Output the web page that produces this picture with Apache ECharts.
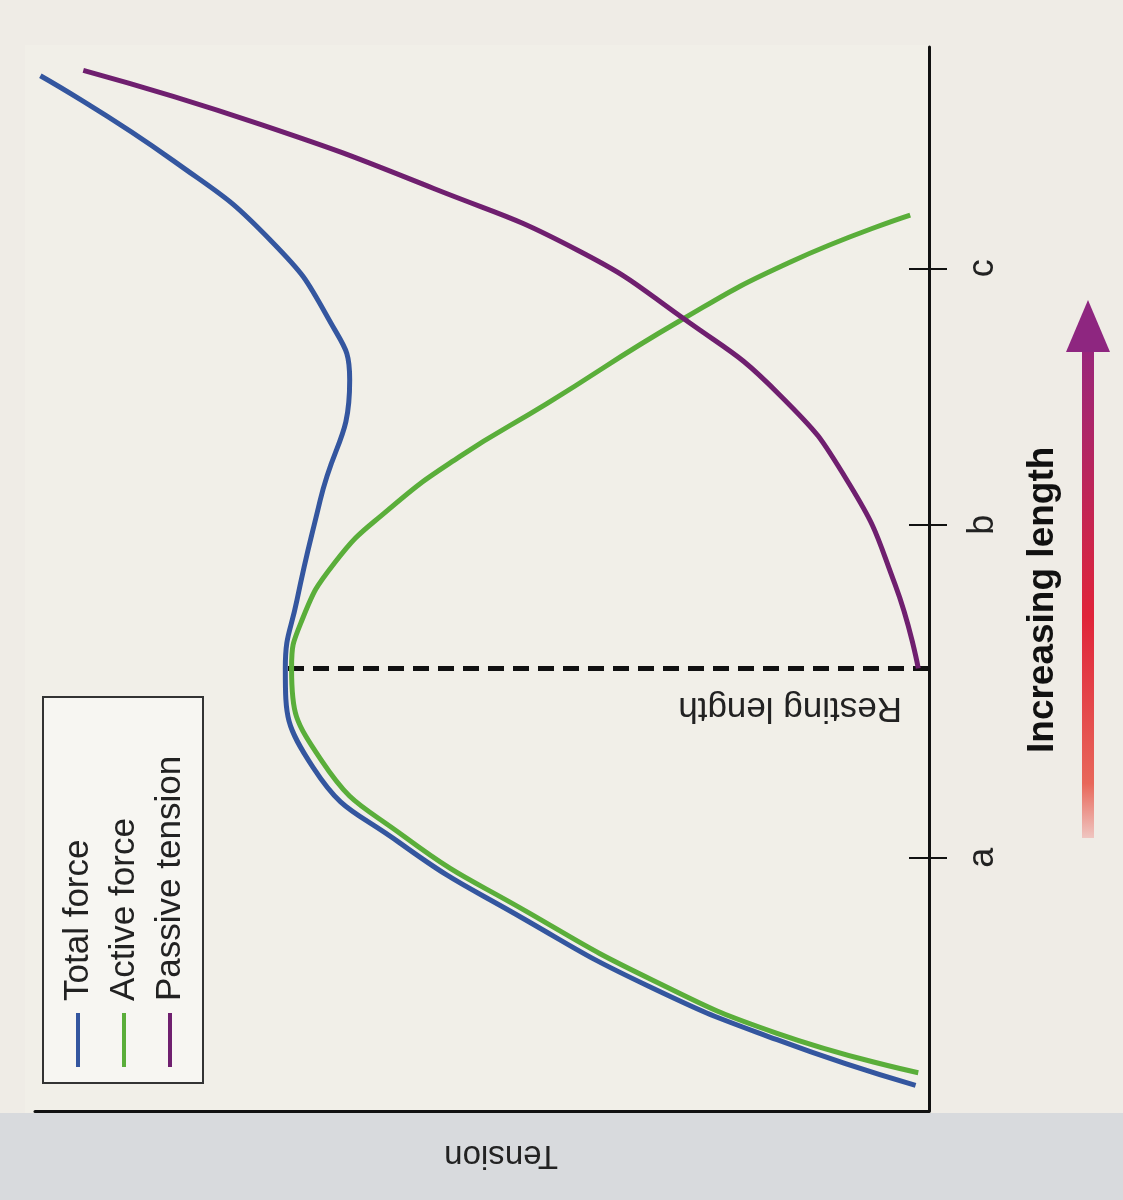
<!DOCTYPE html>
<html><head><meta charset="utf-8">
<script src="https://cdn.jsdelivr.net/npm/echarts@6/dist/echarts.min.js"></script>
<style>html,body{margin:0;padding:0;background:#efece6}#c{width:1123px;height:1200px}</style>
</head><body><div id="c"></div>
<script>
// data: [tension, length]
const activeForce = [[1.2,3.6],[17,7.3],[30.9,12.3],[44.7,18.6],[58.7,25.8],[68,33],[71.3,41.6],[70.2,46],[66.5,51.5],[60.5,56.5],[52.5,61.5],[42.7,66.5],[28,74.2],[15.5,79.8],[2.1,84.2]];
const passiveTension = [[1.2,41.6],[3.8,49.5],[8.9,58.9],[16.7,67.3],[27.5,74.5],[39.3,80.9],[55.4,86.7],[74.7,92.7],[94.6,97.8]];
const totalForce = [[1.5,2.4],[17,6.7],[31.3,11.7],[45.2,18],[59.2,25.2],[68.9,32.3],[72,41.6],[70.7,48],[68.1,57.4],[64.8,68.7],[67,74.2],[73.5,81.7],[84.5,89.3],[99.4,97.3]];
const restingLength = 41.6;
const restingTension = 72;
const tickValues = [23.8,55.1,79.2];
const tickLabels = ['a','b','c'];
const legendNames = ['Total force','Active force','Passive tension'];
const colors = ['#34569f','#5aae3a','#6f1f6f'];

const chart = echarts.init(document.getElementById('c'));
const font = 'Liberation Sans, Arial, sans-serif';
const legendGraphics = [{type:'rect',shape:{x:43,y:697,width:160,height:386},style:{fill:'#f7f6f2',stroke:'#333',lineWidth:2}}];
legendNames.forEach((n,i)=>{
  const x = 78 + i*46;
  legendGraphics.push({type:'line',shape:{x1:x,y1:1013,x2:x,y2:1067},style:{stroke:colors[i],lineWidth:4}});
  legendGraphics.push({type:'text',x:x,y:1001,rotation:Math.PI/2,style:{text:n,font:'35px '+font,fill:'#222',align:'left',verticalAlign:'middle'}});
});
const lineS = (name,data,c)=>({type:'line',name,data,smooth:0.5,symbol:'none',lineStyle:{color:c,width:5},z:3});
const yBase = {type:'value',min:0,max:100,position:'right',splitLine:{show:false}};
chart.setOption({
  animation:false,
  backgroundColor:'#efece6',
  grid:{left:35,right:194,top:47,bottom:89},
  xAxis:{type:'value',min:0,max:100,inverse:true,axisLine:{show:true,lineStyle:{color:'#111',width:3}},axisTick:{show:false},axisLabel:{show:false},splitLine:{show:false}},
  yAxis:[
    Object.assign({},yBase,{axisLine:{show:true,lineStyle:{color:'#111',width:3}},
    axisTick:{show:true,length:18,customValues:tickValues,lineStyle:{color:'#111',width:2}},
    axisLabel:{show:true,customValues:tickValues,rotate:90,margin:36,fontSize:36,fontFamily:font,color:'#222',
      formatter:v=>{const i=tickValues.indexOf(v);return i>=0?tickLabels[i]:'';}}}),
    Object.assign({},yBase,{axisLine:{show:false},axisLabel:{show:false},
    axisTick:{show:true,inside:true,length:20,customValues:tickValues,lineStyle:{color:'#111',width:2}}})
  ],
  series:[
    {type:'line',data:[[0,restingLength],[restingTension,restingLength]],symbol:'none',lineStyle:{color:'#111',width:5,type:[16,9]},z:2},
    lineS('Active force',activeForce,colors[1]),
    lineS('Total force',totalForce,colors[0]),
    lineS('Passive tension',passiveTension,colors[2])
  ],
  graphic:[
    {type:'rect',z:-10,shape:{x:0,y:1113,width:1123,height:87},style:{fill:'#d8dadd'}},
    {type:'rect',z:-10,shape:{x:25,y:45,width:905,height:1068},style:{fill:'#f1efe8'}},
    ...legendGraphics,
    {type:'text',x:558,y:1155,rotation:Math.PI,style:{text:'Tension',font:'33px '+font,fill:'#222',align:'left',verticalAlign:'middle'}},
    {type:'text',x:902,y:690,rotation:Math.PI,style:{text:'Resting length',font:'35px '+font,fill:'#222',align:'left',verticalAlign:'bottom'}},
    {type:'text',x:1043,y:753,rotation:Math.PI/2,style:{text:'Increasing length',font:'bold 37px '+font,fill:'#111',align:'left',verticalAlign:'middle'}},
    {type:'line',shape:{x1:1088,y1:838,x2:1088,y2:345},style:{lineWidth:12,stroke:{type:'linear',x:0,y:1,x2:0,y2:0,colorStops:[{offset:0,color:'#f0d0cc'},{offset:0.12,color:'#e8675a'},{offset:0.45,color:'#e0243a'},{offset:1,color:'#96267e'}]}}},
    {type:'polygon',shape:{points:[[1088,300],[1066,352],[1110,352]]},style:{fill:'#8e2680'}}
  ]
});
</script></body></html>
